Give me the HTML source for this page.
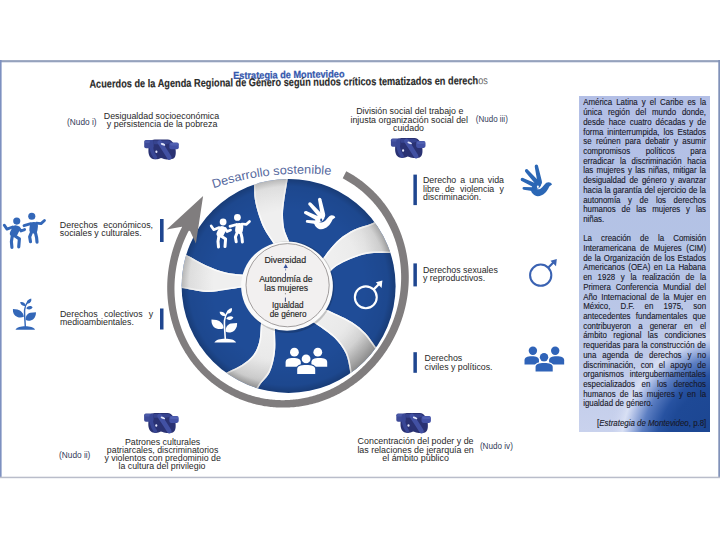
<!DOCTYPE html>
<html><head><meta charset="utf-8"><style>html,body{margin:0;padding:0;background:#fff;width:720px;height:540px;overflow:hidden}svg{display:block}</style></head>
<body><svg width="720" height="540" viewBox="0 0 720 540" font-family="&apos;Liberation Sans&apos;, sans-serif">
<defs>
<linearGradient id="boxg" x1="0" y1="0" x2="1" y2="1">
 <stop offset="0" stop-color="#b8c2e8"/>
 <stop offset="0.55" stop-color="#b3bde6"/>
 <stop offset="1" stop-color="#2a55a8"/>
</linearGradient>
<linearGradient id="boxv" x1="0" y1="0" x2="0" y2="1">
 <stop offset="0" stop-color="#b3bfe6"/>
 <stop offset="0.45" stop-color="#b4c3e5"/>
 <stop offset="0.8" stop-color="#bfcae9"/>
 <stop offset="1" stop-color="#c9d2ed"/>
</linearGradient>
<radialGradient id="boxr" gradientUnits="userSpaceOnUse" cx="727" cy="450" r="140" gradientTransform="translate(727 450) scale(1 1.08) translate(-727 -450)">
 <stop offset="0" stop-color="#1a4490"/>
 <stop offset="0.43" stop-color="#1e4996"/>
 <stop offset="0.507" stop-color="#2752a1"/>
 <stop offset="0.62" stop-color="#5c7ec2"/>
 <stop offset="0.714" stop-color="#b4c3e8" stop-opacity="0.9"/>
 <stop offset="0.757" stop-color="#dde4f6" stop-opacity="0.8"/>
 <stop offset="0.86" stop-color="#c8d0ee" stop-opacity="0"/>
</radialGradient>
<clipPath id="wheelclip"><circle cx="288.6" cy="285.9" r="107"/></clipPath>
<linearGradient id="bandg" x1="0" y1="0" x2="1" y2="0">
 <stop offset="0" stop-color="#f4f4f4"/>
 <stop offset="0.6" stop-color="#e4e4e4"/>
 <stop offset="1" stop-color="#c8c8c8"/>
</linearGradient>
<radialGradient id="bandrad" cx="272" cy="266" r="125" gradientUnits="userSpaceOnUse">
 <stop offset="0.5" stop-color="#efefef"/>
 <stop offset="0.76" stop-color="#e9e9e9"/>
 <stop offset="0.9" stop-color="#d8d8d8"/>
 <stop offset="1" stop-color="#b2b2b2"/>
</radialGradient>
<radialGradient id="rimshade" cx="288.6" cy="285.9" r="107" gradientUnits="userSpaceOnUse">
 <stop offset="0.7" stop-color="#000" stop-opacity="0"/>
 <stop offset="0.93" stop-color="#000" stop-opacity="0.06"/>
 <stop offset="1" stop-color="#000" stop-opacity="0.22"/>
</radialGradient>
</defs>
<rect width="720" height="540" fill="#ffffff"/>
<rect x="0" y="60.2" width="720" height="1.7" fill="#8a98b6"/>
<rect x="0" y="62" width="720" height="1" fill="#dfe3ee"/>
<rect x="0" y="60" width="1.6" height="418" fill="#7d90c0"/>
<rect x="718.3" y="60" width="1.7" height="418" fill="#8192b9"/>
<rect x="0" y="476.7" width="720" height="1.5" fill="#b9bdca"/>
<g transform="rotate(-0.9 289 76)">
<text x="233.20" y="78.20" font-size="10.2" fill="#3558ad" text-anchor="start" font-weight="bold" textLength="111.3" lengthAdjust="spacingAndGlyphs" stroke="#3558ad" stroke-width="0.25">Estrategia de Montevideo</text>
</g>
<g transform="rotate(-0.5 89.4 87.7)">
<text x="89.4" y="87.7" font-size="11.3" fill="#2a2a2a" stroke="#2a2a2a" stroke-width="0.15" font-weight="bold" textLength="398.6" lengthAdjust="spacingAndGlyphs">Acuerdos de la Agenda Regional de Género según nudos críticos tematizados en derech<tspan font-weight="normal" fill="#666" stroke="none">os</tspan></text>
</g>
<text x="67.10" y="125.30" font-size="8.2" fill="#323a58" text-anchor="start" font-weight="normal" textLength="29.5" lengthAdjust="spacingAndGlyphs">(Nudo i)</text>
<text x="161.50" y="119.40" font-size="8.9" fill="#282828" text-anchor="middle" font-weight="normal" >Desigualdad socioeconómica</text>
<text x="162.10" y="127.40" font-size="8.9" fill="#282828" text-anchor="middle" font-weight="normal" >y persistencia de la pobreza</text>
<text x="409.80" y="114.40" font-size="8.85" fill="#282828" text-anchor="middle" font-weight="normal" >División social del trabajo e</text>
<text x="409.20" y="122.60" font-size="8.85" fill="#282828" text-anchor="middle" font-weight="normal" >injusta organización social del</text>
<text x="408.50" y="130.90" font-size="8.85" fill="#282828" text-anchor="middle" font-weight="normal" >cuidado</text>
<text x="475.80" y="121.60" font-size="8.2" fill="#323a58" text-anchor="start" font-weight="normal" textLength="32" lengthAdjust="spacingAndGlyphs">(Nudo iii)</text>
<text x="162.60" y="444.60" font-size="8.8" fill="#282828" text-anchor="middle" font-weight="normal" >Patrones culturales</text>
<text x="162.60" y="452.80" font-size="8.8" fill="#282828" text-anchor="middle" font-weight="normal" >patriarcales, discriminatorios</text>
<text x="162.60" y="461.10" font-size="8.8" fill="#282828" text-anchor="middle" font-weight="normal" >y violentos con predominio de</text>
<text x="162.00" y="469.40" font-size="8.8" fill="#282828" text-anchor="middle" font-weight="normal" >la cultura del privilegio</text>
<text x="59.00" y="458.00" font-size="8.2" fill="#323a58" text-anchor="start" font-weight="normal" textLength="31.4" lengthAdjust="spacingAndGlyphs">(Nudo ii)</text>
<text x="415.60" y="444.30" font-size="8.9" fill="#282828" text-anchor="middle" font-weight="normal" >Concentración del poder y de</text>
<text x="415.60" y="452.50" font-size="8.9" fill="#282828" text-anchor="middle" font-weight="normal" >las relaciones de jerarquía en</text>
<text x="415.60" y="460.70" font-size="8.9" fill="#282828" text-anchor="middle" font-weight="normal" >el ámbito público</text>
<text x="479.90" y="449.00" font-size="8.2" fill="#323a58" text-anchor="start" font-weight="normal" textLength="33" lengthAdjust="spacingAndGlyphs">(Nudo iv)</text>
<text x="59.80" y="227.90" font-size="8.9" fill="#282828" word-spacing="2.972">Derechos económicos,</text>
<text x="59.80" y="236.10" font-size="8.9" fill="#282828" text-anchor="start" font-weight="normal" >sociales y culturales.</text>
<rect x="160" y="219" width="3.6" height="23" fill="#1f4690"/>
<text x="60.00" y="316.70" font-size="8.8" fill="#282828" word-spacing="3.854">Derechos colectivos y</text>
<text x="60.00" y="325.00" font-size="8.8" fill="#282828" text-anchor="start" font-weight="normal" >medioambientales.</text>
<rect x="160" y="308.5" width="3.5" height="21" fill="#1f4690"/>
<rect x="413.4" y="174.6" width="3.5" height="30.5" fill="#1f4690"/>
<text x="423.00" y="183.40" font-size="8.8" fill="#282828" word-spacing="1.560">Derecho a una vida</text>
<text x="423.00" y="191.60" font-size="8.8" fill="#282828" word-spacing="2.868">libre de violencia y</text>
<text x="423.00" y="199.80" font-size="8.8" fill="#282828" text-anchor="start" font-weight="normal" >discriminación.</text>
<rect x="413.4" y="263.4" width="3.5" height="23" fill="#1f4690"/>
<text x="423.00" y="272.60" font-size="8.8" fill="#282828" text-anchor="start" font-weight="normal" >Derechos sexuales</text>
<text x="423.00" y="280.90" font-size="8.8" fill="#282828" text-anchor="start" font-weight="normal" >y reproductivos.</text>
<rect x="413.4" y="352.2" width="3.5" height="20.6" fill="#1f4690"/>
<text x="424.60" y="361.40" font-size="8.8" fill="#282828" text-anchor="start" font-weight="normal" >Derechos</text>
<text x="424.60" y="369.70" font-size="8.8" fill="#282828" text-anchor="start" font-weight="normal" >civiles y políticos.</text>
<rect x="579" y="96" width="131" height="336" fill="url(#boxv)"/>
<rect x="579" y="96" width="131" height="336" fill="url(#boxr)"/>
<text transform="translate(583.20 105.40) scale(0.93 1)" x="0" y="0" font-size="8.5" fill="#181828" stroke="#181828" stroke-width="0.12" text-anchor="start" word-spacing="2.060">América Latina y el Caribe es la</text>
<text transform="translate(583.20 115.11) scale(0.93 1)" x="0" y="0" font-size="8.5" fill="#181828" stroke="#181828" stroke-width="0.12" text-anchor="start" word-spacing="3.909">única región del mundo donde,</text>
<text transform="translate(583.20 124.82) scale(0.93 1)" x="0" y="0" font-size="8.5" fill="#181828" stroke="#181828" stroke-width="0.12" text-anchor="start" word-spacing="1.900">desde hace cuatro décadas y de</text>
<text transform="translate(583.20 134.53) scale(0.93 1)" x="0" y="0" font-size="8.5" fill="#181828" stroke="#181828" stroke-width="0.12" text-anchor="start" word-spacing="1.917">forma ininterrumpida, los Estados</text>
<text transform="translate(583.20 144.24) scale(0.93 1)" x="0" y="0" font-size="8.5" fill="#181828" stroke="#181828" stroke-width="0.12" text-anchor="start" word-spacing="2.471">se reúnen para debatir y asumir</text>
<text transform="translate(583.20 153.95) scale(0.93 1)" x="0" y="0" font-size="8.5" fill="#181828" stroke="#181828" stroke-width="0.12" text-anchor="start" word-spacing="14.453">compromisos políticos para</text>
<text transform="translate(583.20 163.66) scale(0.93 1)" x="0" y="0" font-size="8.5" fill="#181828" stroke="#181828" stroke-width="0.12" text-anchor="start" word-spacing="3.650">erradicar la discriminación hacia</text>
<text transform="translate(583.20 173.37) scale(0.93 1)" x="0" y="0" font-size="8.5" fill="#181828" stroke="#181828" stroke-width="0.12" text-anchor="start" word-spacing="1.196">las mujeres y las niñas, mitigar la</text>
<text transform="translate(583.20 183.08) scale(0.93 1)" x="0" y="0" font-size="8.5" fill="#181828" stroke="#181828" stroke-width="0.12" text-anchor="start" word-spacing="1.665">desigualdad de género y avanzar</text>
<text transform="translate(583.20 192.79) scale(0.93 1)" x="0" y="0" font-size="8.5" fill="#181828" stroke="#181828" stroke-width="0.12" text-anchor="start" word-spacing="0.246">hacia la garantía del ejercicio de la</text>
<text transform="translate(583.20 202.50) scale(0.93 1)" x="0" y="0" font-size="8.5" fill="#181828" stroke="#181828" stroke-width="0.12" text-anchor="start" word-spacing="5.803">autonomía y de los derechos</text>
<text transform="translate(583.20 212.21) scale(0.93 1)" x="0" y="0" font-size="8.5" fill="#181828" stroke="#181828" stroke-width="0.12" text-anchor="start" word-spacing="3.984">humanos de las mujeres y las</text>
<text transform="translate(583.20 221.92) scale(0.93 1)" x="0" y="0" font-size="8.5" fill="#181828" stroke="#181828" stroke-width="0.12" text-anchor="start" word-spacing="0.000">niñas.</text>
<text transform="translate(583.20 241.34) scale(0.93 1)" x="0" y="0" font-size="8.5" fill="#181828" stroke="#181828" stroke-width="0.12" text-anchor="start" word-spacing="7.459">La creación de la Comisión</text>
<text transform="translate(583.20 251.05) scale(0.93 1)" x="0" y="0" font-size="8.5" fill="#181828" stroke="#181828" stroke-width="0.12" text-anchor="start" word-spacing="2.552">Interamericana de Mujeres (CIM)</text>
<text transform="translate(583.20 260.76) scale(0.93 1)" x="0" y="0" font-size="8.5" fill="#181828" stroke="#181828" stroke-width="0.12" text-anchor="start" word-spacing="0.674">de la Organización de los Estados</text>
<text transform="translate(583.20 270.47) scale(0.93 1)" x="0" y="0" font-size="8.5" fill="#181828" stroke="#181828" stroke-width="0.12" text-anchor="start" word-spacing="1.435">Americanos (OEA) en La Habana</text>
<text transform="translate(583.20 280.18) scale(0.93 1)" x="0" y="0" font-size="8.5" fill="#181828" stroke="#181828" stroke-width="0.12" text-anchor="start" word-spacing="3.710">en 1928 y la realización de la</text>
<text transform="translate(583.20 289.89) scale(0.93 1)" x="0" y="0" font-size="8.5" fill="#181828" stroke="#181828" stroke-width="0.12" text-anchor="start" word-spacing="2.860">Primera Conferencia Mundial del</text>
<text transform="translate(583.20 299.60) scale(0.93 1)" x="0" y="0" font-size="8.5" fill="#181828" stroke="#181828" stroke-width="0.12" text-anchor="start" word-spacing="1.996">Año Internacional de la Mujer en</text>
<text transform="translate(583.20 309.31) scale(0.93 1)" x="0" y="0" font-size="8.5" fill="#181828" stroke="#181828" stroke-width="0.12" text-anchor="start" word-spacing="8.523">México, D.F. en 1975, son</text>
<text transform="translate(583.20 319.02) scale(0.93 1)" x="0" y="0" font-size="8.5" fill="#181828" stroke="#181828" stroke-width="0.12" text-anchor="start" word-spacing="3.328">antecedentes fundamentales que</text>
<text transform="translate(583.20 328.73) scale(0.93 1)" x="0" y="0" font-size="8.5" fill="#181828" stroke="#181828" stroke-width="0.12" text-anchor="start" word-spacing="5.330">contribuyeron a generar en el</text>
<text transform="translate(583.20 338.44) scale(0.93 1)" x="0" y="0" font-size="8.5" fill="#181828" stroke="#181828" stroke-width="0.12" text-anchor="start" word-spacing="4.588">ámbito regional las condiciones</text>
<text transform="translate(583.20 348.15) scale(0.93 1)" x="0" y="0" font-size="8.5" fill="#181828" stroke="#181828" stroke-width="0.12" text-anchor="start" word-spacing="0.488">requeridas para la construcción de</text>
<text transform="translate(583.20 357.86) scale(0.93 1)" x="0" y="0" font-size="8.5" fill="#181828" stroke="#181828" stroke-width="0.12" text-anchor="start" word-spacing="3.977">una agenda de derechos y no</text>
<text transform="translate(583.20 367.57) scale(0.93 1)" x="0" y="0" font-size="8.5" fill="#181828" stroke="#181828" stroke-width="0.12" text-anchor="start" word-spacing="3.442">discriminación, con el apoyo de</text>
<text transform="translate(583.20 377.28) scale(0.93 1)" x="0" y="0" font-size="8.5" fill="#181828" stroke="#181828" stroke-width="0.12" text-anchor="start" word-spacing="3.844">organismos intergubernamentales</text>
<text transform="translate(583.20 386.99) scale(0.93 1)" x="0" y="0" font-size="8.5" fill="#181828" stroke="#181828" stroke-width="0.12" text-anchor="start" word-spacing="4.745">especializados en los derechos</text>
<text transform="translate(583.20 396.70) scale(0.93 1)" x="0" y="0" font-size="8.5" fill="#181828" stroke="#181828" stroke-width="0.12" text-anchor="start" word-spacing="2.059">humanos de las mujeres y en la</text>
<text transform="translate(583.20 406.41) scale(0.93 1)" x="0" y="0" font-size="8.5" fill="#181828" stroke="#181828" stroke-width="0.12" text-anchor="start" word-spacing="0.000">igualdad de género.</text>
<text transform="translate(706.30 425.83) scale(0.93 1)" x="0" y="0" font-size="8.5" fill="#181828" stroke="#181828" stroke-width="0.12" text-anchor="end" word-spacing="0.000">[<tspan font-style="italic">Estrategia de Montevideo</tspan>, p.8]</text>
<path d="M346.26 171.26 L347.61 171.98 L348.96 172.72 L350.29 173.49 L351.61 174.26 L352.92 175.06 L354.22 175.87 L355.51 176.70 L356.79 177.55 L358.05 178.41 L359.31 179.29 L360.55 180.19 L361.78 181.10 L362.99 182.03 L364.19 182.98 L365.38 183.94 L366.56 184.91 L367.72 185.90 L368.87 186.91 L370.01 187.93 L371.13 188.96 L372.24 190.01 L373.33 191.07 L374.41 192.15 L375.47 193.23 L376.52 194.34 L377.55 195.45 L378.57 196.58 L379.57 197.72 L380.56 198.87 L381.53 200.04 L382.48 201.22 L383.42 202.40 L384.35 203.60 L385.25 204.81 L386.14 206.04 L387.02 207.27 L387.88 208.51 L388.72 209.76 L389.54 211.02 L390.35 212.30 L391.14 213.58 L391.91 214.87 L392.67 216.16 L393.41 217.47 L394.13 218.79 L394.84 220.11 L395.53 221.44 L396.20 222.78 L396.85 224.12 L397.49 225.48 L398.11 226.84 L398.71 228.20 L399.29 229.57 L399.86 230.95 L400.40 232.33 L400.94 233.72 L401.45 235.12 L401.94 236.51 L402.42 237.92 L402.88 239.33 L403.33 240.74 L403.75 242.15 L404.16 243.57 L404.55 245.00 L404.92 246.43 L405.28 247.85 L405.62 249.29 L405.94 250.72 L406.24 252.16 L406.53 253.60 L406.80 255.04 L407.05 256.49 L407.28 257.93 L407.50 259.38 L407.70 260.82 L407.88 262.27 L408.05 263.72 L408.19 265.17 L408.33 266.62 L408.44 268.07 L408.54 269.52 L408.62 270.97 L408.69 272.42 L408.73 273.86 L408.77 275.31 L408.78 276.76 L408.78 278.20 L408.76 279.65 L408.73 281.09 L408.68 282.53 L408.61 283.97 L408.53 285.40 L408.43 286.84 L408.32 288.27 L408.19 289.70 L408.05 291.12 L407.89 292.55 L407.71 293.97 L407.52 295.39 L407.31 296.80 L407.09 298.21 L406.85 299.62 L406.60 301.02 L406.33 302.42 L406.05 303.82 L405.75 305.21 L405.44 306.60 L405.11 307.98 L404.77 309.36 L404.42 310.73 L404.05 312.10 L403.66 313.46 L403.26 314.82 L402.85 316.18 L402.42 317.53 L401.98 318.87 L401.53 320.21 L401.06 321.54 L400.58 322.87 L400.08 324.19 L399.57 325.50 L399.04 326.81 L398.51 328.12 L397.96 329.41 L397.39 330.70 L396.81 331.99 L396.22 333.26 L395.62 334.53 L395.00 335.80 L394.37 337.06 L393.73 338.31 L393.07 339.55 L392.40 340.78 L391.72 342.01 L391.03 343.23 L390.32 344.45 L389.60 345.65 L388.87 346.85 L388.13 348.04 L387.37 349.22 L386.60 350.40 L385.82 351.56 L385.03 352.72 L384.22 353.87 L383.40 355.01 L382.57 356.14 L381.73 357.27 L380.88 358.38 L380.01 359.49 L379.14 360.58 L378.25 361.67 L377.35 362.75 L376.43 363.82 L375.51 364.88 L374.58 365.93 L373.63 366.97 L372.67 368.00 L371.71 369.01 L370.73 370.02 L369.74 371.02 L368.73 372.01 L367.72 372.99 L366.70 373.96 L365.66 374.91 L364.62 375.86 L363.56 376.80 L362.50 377.72 L361.42 378.63 L360.33 379.53 L359.24 380.42 L358.13 381.30 L357.01 382.17 L355.89 383.02 L354.75 383.86 L353.60 384.69 L352.44 385.51 L351.28 386.31 L350.10 387.10 L348.92 387.88 L347.72 388.65 L346.52 389.40 L345.31 390.14 L344.08 390.87 L342.85 391.58 L341.61 392.28 L340.37 392.97 L339.11 393.64 L337.85 394.30 L336.57 394.94 L335.29 395.57 L334.00 396.18 L332.71 396.78 L331.40 397.37 L330.09 397.94 L328.77 398.49 L327.44 399.03 L326.11 399.56 L324.77 400.07 L323.42 400.56 L322.07 401.04 L320.71 401.50 L319.34 401.95 L317.97 402.38 L316.59 402.80 L315.21 403.19 L313.82 403.58 L312.42 403.94 L311.02 404.29 L309.62 404.62 L308.21 404.94 L306.79 405.23 L305.37 405.52 L303.95 405.78 L302.52 406.03 L301.09 406.26 L299.66 406.47 L298.22 406.66 L296.78 406.84 L295.34 407.00 L293.89 407.14 L292.44 407.26 L290.99 407.37 L289.54 407.45 L288.08 407.52 L286.63 407.57 L285.17 407.61 L283.71 407.62 L282.25 407.62 L280.79 407.59 L279.33 407.55 L277.87 407.50 L276.41 407.42 L274.95 407.32 L273.49 407.21 L272.04 407.07 L270.58 406.92 L269.12 406.75 L267.67 406.56 L266.22 406.36 L264.77 406.13 L263.32 405.88 L261.88 405.62 L260.44 405.34 L259.00 405.04 L257.56 404.72 L256.13 404.38 L254.71 404.03 L253.28 403.65 L251.87 403.26 L250.45 402.85 L249.04 402.42 L247.64 401.97 L246.24 401.50 L244.85 401.02 L243.47 400.52 L242.09 400.00 L240.71 399.46 L239.35 398.90 L237.99 398.33 L236.64 397.74 L235.29 397.13 L233.96 396.50 L232.63 395.86 L231.31 395.20 L230.00 394.52 L228.69 393.82 L227.40 393.11 L226.12 392.38 L224.84 391.64 L223.58 390.88 L222.32 390.10 L221.07 389.30 L219.84 388.49 L218.61 387.67 L217.40 386.82 L216.20 385.97 L215.00 385.09 L213.82 384.20 L212.66 383.30 L211.50 382.38 L210.35 381.45 L209.22 380.50 L208.10 379.54 L206.99 378.56 L205.89 377.57 L204.81 376.57 L203.74 375.55 L202.69 374.52 L201.64 373.47 L200.61 372.41 L199.60 371.34 L198.59 370.26 L197.61 369.16 L196.63 368.05 L195.67 366.93 L194.73 365.80 L193.80 364.66 L192.88 363.50 L191.98 362.33 L191.09 361.16 L190.22 359.97 L189.36 358.77 L188.52 357.56 L187.70 356.34 L186.89 355.11 L186.09 353.87 L185.31 352.63 L184.55 351.37 L183.80 350.10 L183.07 348.83 L182.35 347.54 L181.65 346.25 L180.97 344.95 L180.30 343.64 L179.65 342.32 L179.01 341.00 L178.40 339.67 L177.79 338.33 L177.21 336.99 L176.64 335.64 L176.08 334.28 L175.55 332.91 L175.03 331.54 L174.53 330.17 L174.04 328.79 L173.57 327.40 L173.12 326.01 L172.68 324.61 L172.26 323.21 L171.86 321.81 L171.47 320.40 L171.10 318.99 L170.75 317.57 L170.41 316.15 L170.09 314.72 L169.79 313.29 L169.51 311.86 L169.24 310.43 L168.98 308.99 L168.75 307.56 L168.53 306.12 L168.33 304.67 L168.14 303.23 L167.97 301.78 L167.82 300.33 L167.69 298.89 L167.57 297.43 L167.47 295.98 L167.38 294.53 L167.31 293.08 L167.26 291.63 L167.22 290.17 L167.20 288.72 L167.20 287.27 L167.21 285.82 L167.24 284.36 L167.28 282.91 L167.35 281.46 L167.42 280.01 L167.52 278.56 L167.63 277.12 L167.75 275.67 L167.90 274.23 L168.05 272.79 L168.23 271.35 L168.42 269.91 L168.62 268.47 L168.85 267.04 L169.08 265.61 L169.34 264.18 L169.61 262.75 L169.89 261.33 L170.19 259.91 L170.51 258.50 L170.84 257.09 L171.18 255.68 L171.55 254.27 L171.92 252.87 L172.32 251.48 L172.72 250.08 L173.15 248.69 L173.58 247.31 L174.04 245.93 L174.51 244.56 L174.99 243.19 L175.49 241.83 L176.00 240.47 L176.53 239.11 L177.08 237.77 L177.63 236.42 L178.21 235.09 L178.79 233.76 L179.40 232.43 L180.01 231.11 L180.65 229.80 L181.29 228.50 L181.95 227.20 L182.63 225.91 L183.32 224.62 L189.99 228.51 L189.34 229.71 L188.70 230.91 L188.07 232.12 L187.46 233.34 L186.86 234.57 L186.28 235.80 L185.70 237.04 L185.15 238.28 L184.60 239.53 L184.07 240.78 L183.55 242.04 L183.05 243.31 L182.56 244.58 L182.09 245.86 L181.62 247.14 L181.18 248.42 L180.74 249.71 L180.32 251.01 L179.92 252.31 L179.53 253.61 L179.15 254.92 L178.79 256.23 L178.44 257.54 L178.10 258.86 L177.78 260.19 L177.48 261.51 L177.19 262.84 L176.91 264.18 L176.65 265.51 L176.40 266.85 L176.17 268.19 L175.95 269.54 L175.75 270.88 L175.56 272.23 L175.39 273.58 L175.23 274.94 L175.09 276.29 L174.96 277.65 L174.84 279.01 L174.75 280.37 L174.66 281.73 L174.60 283.09 L174.55 284.46 L174.51 285.82 L174.49 287.19 L174.48 288.55 L174.49 289.92 L174.52 291.28 L174.56 292.65 L174.61 294.02 L174.68 295.38 L174.77 296.75 L174.88 298.11 L174.99 299.48 L175.13 300.84 L175.28 302.20 L175.45 303.56 L175.63 304.92 L175.83 306.28 L176.04 307.63 L176.27 308.99 L176.51 310.34 L176.78 311.68 L177.05 313.03 L177.35 314.37 L177.66 315.71 L177.98 317.05 L178.32 318.38 L178.68 319.71 L179.05 321.03 L179.44 322.36 L179.85 323.67 L180.27 324.98 L180.71 326.29 L181.16 327.59 L181.63 328.89 L182.11 330.18 L182.61 331.47 L183.13 332.75 L183.66 334.03 L184.21 335.30 L184.77 336.56 L185.35 337.81 L185.95 339.06 L186.56 340.30 L187.18 341.54 L187.83 342.77 L188.48 343.98 L189.15 345.20 L189.84 346.40 L190.55 347.59 L191.26 348.78 L192.00 349.96 L192.74 351.13 L193.51 352.29 L194.28 353.44 L195.08 354.58 L195.88 355.71 L196.70 356.83 L197.54 357.94 L198.39 359.04 L199.25 360.12 L200.13 361.20 L201.02 362.27 L201.93 363.32 L202.84 364.37 L203.78 365.40 L204.72 366.42 L205.68 367.43 L206.65 368.42 L207.64 369.41 L208.63 370.38 L209.64 371.34 L210.67 372.28 L211.70 373.21 L212.75 374.13 L213.81 375.03 L214.88 375.92 L215.96 376.80 L217.05 377.66 L218.15 378.51 L219.27 379.34 L220.39 380.16 L221.53 380.97 L222.68 381.76 L223.83 382.53 L225.00 383.29 L226.18 384.03 L227.36 384.76 L228.56 385.47 L229.76 386.17 L230.98 386.85 L232.20 387.52 L233.43 388.16 L234.66 388.80 L235.91 389.41 L237.16 390.01 L238.43 390.59 L239.69 391.16 L240.97 391.71 L242.25 392.24 L243.54 392.76 L244.84 393.26 L246.14 393.74 L247.44 394.20 L248.76 394.65 L250.07 395.08 L251.40 395.49 L252.72 395.89 L254.05 396.27 L255.39 396.63 L256.73 396.97 L258.08 397.30 L259.42 397.60 L260.77 397.89 L262.13 398.17 L263.49 398.42 L264.84 398.66 L266.21 398.88 L267.57 399.08 L268.94 399.27 L270.30 399.43 L271.67 399.58 L273.04 399.71 L274.41 399.83 L275.78 399.93 L277.16 400.01 L278.53 400.07 L279.90 400.11 L281.27 400.14 L282.64 400.15 L284.01 400.14 L285.38 400.12 L286.75 400.08 L288.11 400.02 L289.48 399.94 L290.84 399.85 L292.20 399.74 L293.56 399.61 L294.92 399.47 L296.27 399.31 L297.62 399.13 L298.97 398.94 L300.31 398.73 L301.65 398.50 L302.99 398.26 L304.32 398.00 L305.65 397.73 L306.97 397.44 L308.29 397.14 L309.60 396.81 L310.91 396.48 L312.22 396.13 L313.52 395.76 L314.81 395.38 L316.10 394.98 L317.38 394.56 L318.66 394.14 L319.93 393.69 L321.20 393.24 L322.46 392.77 L323.71 392.28 L324.95 391.78 L326.19 391.27 L327.42 390.74 L328.65 390.20 L329.86 389.64 L331.07 389.07 L332.28 388.49 L333.47 387.89 L334.66 387.28 L335.84 386.66 L337.01 386.02 L338.17 385.38 L339.33 384.72 L340.48 384.04 L341.62 383.36 L342.75 382.66 L343.87 381.95 L344.98 381.23 L346.09 380.49 L347.18 379.75 L348.27 378.99 L349.35 378.22 L350.42 377.44 L351.47 376.65 L352.52 375.85 L353.57 375.04 L354.60 374.21 L355.62 373.38 L356.63 372.53 L357.64 371.68 L358.63 370.81 L359.61 369.94 L360.59 369.05 L361.55 368.15 L362.50 367.25 L363.45 366.33 L364.38 365.41 L365.30 364.47 L366.22 363.53 L367.12 362.57 L368.01 361.61 L368.89 360.64 L369.77 359.66 L370.63 358.67 L371.48 357.67 L372.32 356.66 L373.15 355.64 L373.97 354.62 L374.77 353.59 L375.57 352.55 L376.36 351.50 L377.13 350.44 L377.90 349.38 L378.65 348.30 L379.39 347.22 L380.12 346.13 L380.84 345.04 L381.55 343.94 L382.25 342.83 L382.93 341.71 L383.61 340.58 L384.27 339.45 L384.92 338.31 L385.56 337.16 L386.19 336.01 L386.80 334.85 L387.41 333.69 L388.00 332.51 L388.58 331.33 L389.15 330.15 L389.70 328.96 L390.24 327.76 L390.78 326.56 L391.29 325.35 L391.80 324.13 L392.30 322.91 L392.78 321.68 L393.25 320.45 L393.70 319.21 L394.15 317.97 L394.58 316.72 L394.99 315.46 L395.40 314.20 L395.79 312.94 L396.17 311.67 L396.53 310.40 L396.89 309.12 L397.23 307.83 L397.55 306.55 L397.86 305.25 L398.16 303.96 L398.45 302.66 L398.72 301.35 L398.97 300.04 L399.22 298.73 L399.44 297.42 L399.66 296.10 L399.86 294.78 L400.05 293.45 L400.22 292.12 L400.37 290.79 L400.52 289.45 L400.65 288.12 L400.76 286.78 L400.86 285.43 L400.94 284.09 L401.01 282.74 L401.06 281.40 L401.10 280.04 L401.13 278.69 L401.13 277.34 L401.13 275.98 L401.10 274.63 L401.07 273.27 L401.01 271.91 L400.94 270.56 L400.86 269.20 L400.76 267.84 L400.64 266.48 L400.51 265.12 L400.36 263.76 L400.20 262.40 L400.01 261.05 L399.82 259.69 L399.61 258.33 L399.38 256.98 L399.13 255.63 L398.87 254.27 L398.59 252.93 L398.30 251.58 L397.98 250.23 L397.66 248.89 L397.31 247.55 L396.95 246.21 L396.57 244.88 L396.18 243.55 L395.77 242.23 L395.34 240.90 L394.90 239.58 L394.44 238.27 L393.96 236.96 L393.47 235.66 L392.96 234.36 L392.43 233.06 L391.89 231.77 L391.33 230.49 L390.75 229.21 L390.16 227.94 L389.55 226.68 L388.92 225.42 L388.28 224.17 L387.62 222.93 L386.95 221.69 L386.25 220.46 L385.55 219.24 L384.82 218.03 L384.08 216.83 L383.33 215.64 L382.55 214.45 L381.77 213.27 L380.96 212.11 L380.14 210.95 L379.31 209.80 L378.46 208.66 L377.59 207.54 L376.71 206.42 L375.82 205.32 L374.91 204.22 L373.98 203.14 L373.04 202.07 L372.09 201.01 L371.12 199.96 L370.13 198.93 L369.13 197.91 L368.12 196.90 L367.10 195.90 L366.06 194.92 L365.00 193.95 L363.94 192.99 L362.86 192.05 L361.77 191.12 L360.66 190.21 L359.54 189.31 L358.42 188.42 L357.27 187.55 L356.12 186.70 L354.95 185.86 L353.78 185.03 L352.59 184.23 L351.39 183.43 L350.18 182.66 L348.96 181.90 L347.72 181.15 L346.48 180.42 L345.23 179.71 L343.97 179.02 L342.70 178.34 Z" fill="#807d7e"/>
<circle cx="288.6" cy="285.9" r="108.6" fill="#ffffff"/>
<circle cx="288.6" cy="285.9" r="107.0" fill="#1f4c97"/>
<g clip-path="url(#wheelclip)">
<clipPath id="bc0"><path d="M253.2 168 C253.33 171.05 253.73 181.03 254.00 186.30 C254.27 191.57 254.05 194.92 254.80 199.60 C255.55 204.28 256.90 209.45 258.50 214.40 C260.10 219.35 262.17 224.85 264.40 229.30 C266.63 233.75 269.80 237.82 271.90 241.10 C274.00 244.38 276.15 247.68 277.00 249.00 L291 249 C290.65 247.68 290.00 244.38 288.90 241.10 C287.80 237.82 285.38 233.75 284.40 229.30 C283.42 224.85 283.00 219.35 283.00 214.40 C283.00 209.45 283.67 205.15 284.40 199.60 C285.13 194.05 286.63 186.37 287.40 181.10 C288.17 175.83 288.73 170.18 289.00 168.00 Z"/></clipPath>
<path d="M253.2 168 C253.33 171.05 253.73 181.03 254.00 186.30 C254.27 191.57 254.05 194.92 254.80 199.60 C255.55 204.28 256.90 209.45 258.50 214.40 C260.10 219.35 262.17 224.85 264.40 229.30 C266.63 233.75 269.80 237.82 271.90 241.10 C274.00 244.38 276.15 247.68 277.00 249.00 L291 249 C290.65 247.68 290.00 244.38 288.90 241.10 C287.80 237.82 285.38 233.75 284.40 229.30 C283.42 224.85 283.00 219.35 283.00 214.40 C283.00 209.45 283.67 205.15 284.40 199.60 C285.13 194.05 286.63 186.37 287.40 181.10 C288.17 175.83 288.73 170.18 289.00 168.00 Z" fill="url(#bandrad)"/>
<path d="M253.2 168 C253.33 171.05 253.73 181.03 254.00 186.30 C254.27 191.57 254.05 194.92 254.80 199.60 C255.55 204.28 256.90 209.45 258.50 214.40 C260.10 219.35 262.17 224.85 264.40 229.30 C266.63 233.75 269.80 237.82 271.90 241.10 C274.00 244.38 276.15 247.68 277.00 249.00 L291 249 C290.65 247.68 290.00 244.38 288.90 241.10 C287.80 237.82 285.38 233.75 284.40 229.30 C283.42 224.85 283.00 219.35 283.00 214.40 C283.00 209.45 283.67 205.15 284.40 199.60 C285.13 194.05 286.63 186.37 287.40 181.10 C288.17 175.83 288.73 170.18 289.00 168.00 Z" fill="none" stroke="#fafafa" stroke-width="3.2" clip-path="url(#bc0)"/>
<clipPath id="bc1"><path d="M388 215 C385.37 216.38 377.80 220.87 372.20 223.30 C366.60 225.73 359.83 226.98 354.40 229.60 C348.97 232.22 343.78 235.60 339.60 239.00 C335.42 242.40 331.77 247.17 329.30 250.00 C326.83 252.83 326.52 253.67 324.80 256.00 C323.08 258.33 319.97 262.67 319.00 264.00 L325 277 C326.20 275.75 329.77 271.62 332.20 269.50 C334.63 267.38 335.90 266.28 339.60 264.30 C343.30 262.32 349.45 259.42 354.40 257.60 C359.35 255.78 363.37 254.17 369.30 253.40 C375.23 252.63 383.22 253.07 390.00 253.00 C396.78 252.93 406.67 253.00 410.00 253.00 Z"/></clipPath>
<path d="M388 215 C385.37 216.38 377.80 220.87 372.20 223.30 C366.60 225.73 359.83 226.98 354.40 229.60 C348.97 232.22 343.78 235.60 339.60 239.00 C335.42 242.40 331.77 247.17 329.30 250.00 C326.83 252.83 326.52 253.67 324.80 256.00 C323.08 258.33 319.97 262.67 319.00 264.00 L325 277 C326.20 275.75 329.77 271.62 332.20 269.50 C334.63 267.38 335.90 266.28 339.60 264.30 C343.30 262.32 349.45 259.42 354.40 257.60 C359.35 255.78 363.37 254.17 369.30 253.40 C375.23 252.63 383.22 253.07 390.00 253.00 C396.78 252.93 406.67 253.00 410.00 253.00 Z" fill="url(#bandrad)"/>
<path d="M388 215 C385.37 216.38 377.80 220.87 372.20 223.30 C366.60 225.73 359.83 226.98 354.40 229.60 C348.97 232.22 343.78 235.60 339.60 239.00 C335.42 242.40 331.77 247.17 329.30 250.00 C326.83 252.83 326.52 253.67 324.80 256.00 C323.08 258.33 319.97 262.67 319.00 264.00 L325 277 C326.20 275.75 329.77 271.62 332.20 269.50 C334.63 267.38 335.90 266.28 339.60 264.30 C343.30 262.32 349.45 259.42 354.40 257.60 C359.35 255.78 363.37 254.17 369.30 253.40 C375.23 252.63 383.22 253.07 390.00 253.00 C396.78 252.93 406.67 253.00 410.00 253.00 Z" fill="none" stroke="#fafafa" stroke-width="3.2" clip-path="url(#bc1)"/>
<clipPath id="bc2"><path d="M385 359 C383.43 356.95 378.83 350.98 375.60 346.70 C372.37 342.42 369.50 337.38 365.60 333.30 C361.70 329.22 357.77 325.72 352.20 322.20 C346.63 318.68 336.90 314.40 332.20 312.20 C327.50 310.00 325.37 309.53 324.00 309.00 L310 321 C311.12 321.57 312.63 321.60 316.70 324.40 C320.77 327.20 329.58 332.98 334.40 337.80 C339.22 342.62 343.00 347.75 345.60 353.30 C348.20 358.85 348.93 365.32 350.00 371.10 C351.07 376.88 351.67 385.18 352.00 388.00 Z"/></clipPath>
<path d="M385 359 C383.43 356.95 378.83 350.98 375.60 346.70 C372.37 342.42 369.50 337.38 365.60 333.30 C361.70 329.22 357.77 325.72 352.20 322.20 C346.63 318.68 336.90 314.40 332.20 312.20 C327.50 310.00 325.37 309.53 324.00 309.00 L310 321 C311.12 321.57 312.63 321.60 316.70 324.40 C320.77 327.20 329.58 332.98 334.40 337.80 C339.22 342.62 343.00 347.75 345.60 353.30 C348.20 358.85 348.93 365.32 350.00 371.10 C351.07 376.88 351.67 385.18 352.00 388.00 Z" fill="url(#bandrad)"/>
<path d="M385 359 C383.43 356.95 378.83 350.98 375.60 346.70 C372.37 342.42 369.50 337.38 365.60 333.30 C361.70 329.22 357.77 325.72 352.20 322.20 C346.63 318.68 336.90 314.40 332.20 312.20 C327.50 310.00 325.37 309.53 324.00 309.00 L310 321 C311.12 321.57 312.63 321.60 316.70 324.40 C320.77 327.20 329.58 332.98 334.40 337.80 C339.22 342.62 343.00 347.75 345.60 353.30 C348.20 358.85 348.93 365.32 350.00 371.10 C351.07 376.88 351.67 385.18 352.00 388.00 Z" fill="none" stroke="#fafafa" stroke-width="3.2" clip-path="url(#bc2)"/>
<clipPath id="bc3"><path d="M213 380 C215.55 378.62 223.52 374.20 228.30 371.70 C233.08 369.20 237.53 367.78 241.70 365.00 C245.87 362.22 250.38 358.88 253.30 355.00 C256.22 351.12 257.95 346.57 259.20 341.70 C260.45 336.83 260.42 329.75 260.80 325.80 C261.18 321.85 261.38 319.30 261.50 318.00 L275.5 320 C275.42 321.53 275.08 323.92 275.00 329.20 C274.92 334.48 275.83 344.62 275.00 351.70 C274.17 358.78 272.50 366.15 270.00 371.70 C267.50 377.25 263.00 380.28 260.00 385.00 C257.00 389.72 253.33 397.50 252.00 400.00 Z"/></clipPath>
<path d="M213 380 C215.55 378.62 223.52 374.20 228.30 371.70 C233.08 369.20 237.53 367.78 241.70 365.00 C245.87 362.22 250.38 358.88 253.30 355.00 C256.22 351.12 257.95 346.57 259.20 341.70 C260.45 336.83 260.42 329.75 260.80 325.80 C261.18 321.85 261.38 319.30 261.50 318.00 L275.5 320 C275.42 321.53 275.08 323.92 275.00 329.20 C274.92 334.48 275.83 344.62 275.00 351.70 C274.17 358.78 272.50 366.15 270.00 371.70 C267.50 377.25 263.00 380.28 260.00 385.00 C257.00 389.72 253.33 397.50 252.00 400.00 Z" fill="url(#bandrad)"/>
<path d="M213 380 C215.55 378.62 223.52 374.20 228.30 371.70 C233.08 369.20 237.53 367.78 241.70 365.00 C245.87 362.22 250.38 358.88 253.30 355.00 C256.22 351.12 257.95 346.57 259.20 341.70 C260.45 336.83 260.42 329.75 260.80 325.80 C261.18 321.85 261.38 319.30 261.50 318.00 L275.5 320 C275.42 321.53 275.08 323.92 275.00 329.20 C274.92 334.48 275.83 344.62 275.00 351.70 C274.17 358.78 272.50 366.15 270.00 371.70 C267.50 377.25 263.00 380.28 260.00 385.00 C257.00 389.72 253.33 397.50 252.00 400.00 Z" fill="none" stroke="#fafafa" stroke-width="3.2" clip-path="url(#bc3)"/>
<clipPath id="bc4"><path d="M170 250 C172.72 250.83 180.25 252.42 186.30 255.00 C192.35 257.58 199.85 262.62 206.30 265.50 C212.75 268.38 219.17 270.78 225.00 272.30 C230.83 273.82 237.13 274.15 241.30 274.60 C245.47 275.05 248.55 274.93 250.00 275.00 L250 287 C248.55 287.08 245.47 287.00 241.30 287.50 C237.13 288.00 230.83 289.27 225.00 290.00 C219.17 290.73 213.58 292.23 206.30 291.90 C199.02 291.57 187.35 288.57 181.30 288.00 C175.25 287.43 171.88 288.42 170.00 288.50 Z"/></clipPath>
<path d="M170 250 C172.72 250.83 180.25 252.42 186.30 255.00 C192.35 257.58 199.85 262.62 206.30 265.50 C212.75 268.38 219.17 270.78 225.00 272.30 C230.83 273.82 237.13 274.15 241.30 274.60 C245.47 275.05 248.55 274.93 250.00 275.00 L250 287 C248.55 287.08 245.47 287.00 241.30 287.50 C237.13 288.00 230.83 289.27 225.00 290.00 C219.17 290.73 213.58 292.23 206.30 291.90 C199.02 291.57 187.35 288.57 181.30 288.00 C175.25 287.43 171.88 288.42 170.00 288.50 Z" fill="url(#bandrad)"/>
<path d="M170 250 C172.72 250.83 180.25 252.42 186.30 255.00 C192.35 257.58 199.85 262.62 206.30 265.50 C212.75 268.38 219.17 270.78 225.00 272.30 C230.83 273.82 237.13 274.15 241.30 274.60 C245.47 275.05 248.55 274.93 250.00 275.00 L250 287 C248.55 287.08 245.47 287.00 241.30 287.50 C237.13 288.00 230.83 289.27 225.00 290.00 C219.17 290.73 213.58 292.23 206.30 291.90 C199.02 291.57 187.35 288.57 181.30 288.00 C175.25 287.43 171.88 288.42 170.00 288.50 Z" fill="none" stroke="#fafafa" stroke-width="3.2" clip-path="url(#bc4)"/>
<circle cx="288.6" cy="285.9" r="107.0" fill="url(#rimshade)"/>
</g>
<circle cx="288.2" cy="287" r="46" fill="#000" opacity="0.18"/>
<ellipse cx="287" cy="286.1" rx="45.9" ry="44.6" fill="#fafafa"/>
<circle cx="287.6" cy="285.2" r="41.6" fill="#f2f0f0" stroke="#8c8686" stroke-width="0.8"/>
<text x="285.30" y="262.80" font-size="8.8" fill="#262626" text-anchor="middle" font-weight="normal" stroke="#262626" stroke-width="0.15">Diversidad</text>
<text x="285.90" y="281.90" font-size="8.6" fill="#262626" text-anchor="middle" font-weight="normal" stroke="#262626" stroke-width="0.15">Autonomía de</text>
<text x="286.20" y="290.70" font-size="8.6" fill="#262626" text-anchor="middle" font-weight="normal" stroke="#262626" stroke-width="0.15">las mujeres</text>
<text x="287.80" y="307.80" font-size="8.2" fill="#262626" text-anchor="middle" font-weight="normal" stroke="#262626" stroke-width="0.15">Igualdad</text>
<text x="288.20" y="316.70" font-size="8.2" fill="#262626" text-anchor="middle" font-weight="normal" stroke="#262626" stroke-width="0.15">de género</text>
<path d="M285.7 264 L283.6 267.9 L287.9 267.9 Z" fill="#34509a"/>
<line x1="285.6" y1="268.5" x2="285.6" y2="270.5" stroke="#5a6a98" stroke-width="0.7"/>
<line x1="285.5" y1="273" x2="285.5" y2="278.2" stroke="#3d4a78" stroke-width="0.9"/>
<circle cx="285.4" cy="293.8" r="0.55" fill="#555"/>
<line x1="285.4" y1="297.6" x2="285.4" y2="301.8" stroke="#3d4a78" stroke-width="1"/>
<circle cx="223.1" cy="222" r="3.4" fill="#ffffff"/>
<circle cx="237.4" cy="217.4" r="3.4" fill="#ffffff"/>
<path d="M222.2 229.8 L220.3 233.6" fill="none" stroke="#ffffff" stroke-linecap="round" stroke-linejoin="round" stroke-width="7.4"/>
<path d="M219.2 227.6 L213.8 229.7 L211.2 225.9" fill="none" stroke="#ffffff" stroke-linecap="round" stroke-linejoin="round" stroke-width="2.7"/>
<path d="M225 228.3 L227.1 231.5 L230.6 230.1" fill="none" stroke="#ffffff" stroke-linecap="round" stroke-linejoin="round" stroke-width="2.7"/>
<path d="M218.8 236.5 L218 241.5 L218.5 247" fill="none" stroke="#ffffff" stroke-linecap="round" stroke-linejoin="round" stroke-width="3"/>
<path d="M221.8 236.5 L225.6 239 L225 246.6" fill="none" stroke="#ffffff" stroke-linecap="round" stroke-linejoin="round" stroke-width="3"/>
<path d="M239.4 226.8 L239 230" fill="none" stroke="#ffffff" stroke-linecap="round" stroke-linejoin="round" stroke-width="7.8"/>
<path d="M236.5 224.5 L230 226.4" fill="none" stroke="#ffffff" stroke-linecap="round" stroke-linejoin="round" stroke-width="2.7"/>
<path d="M242 224 L246.2 224.4 L249.5 221.4" fill="none" stroke="#ffffff" stroke-linecap="round" stroke-linejoin="round" stroke-width="2.7"/>
<path d="M236.8 233.5 L235.4 237 L236.2 241.7" fill="none" stroke="#ffffff" stroke-linecap="round" stroke-linejoin="round" stroke-width="3"/>
<path d="M241 233.5 L242 237.8 L242.4 242" fill="none" stroke="#ffffff" stroke-linecap="round" stroke-linejoin="round" stroke-width="3"/>
<path d="M318.04 199.75 L320.75 215.48 L325.25 214.52 L321.36 199.05 Z M318.00 199.40 a1.70 1.70 0 1 0 3.40 0 a1.70 1.70 0 1 0 -3.40 0 Z M320.70 215.00 a2.30 2.30 0 1 0 4.60 0 a2.30 2.30 0 1 0 -4.60 0 Z" fill="#ffffff" fill-rule="nonzero"/>
<path d="M308.64 205.04 L318.89 217.34 L322.31 214.26 L311.16 202.76 Z M308.20 203.90 a1.70 1.70 0 1 0 3.40 0 a1.70 1.70 0 1 0 -3.40 0 Z M318.30 215.80 a2.30 2.30 0 1 0 4.60 0 a2.30 2.30 0 1 0 -4.60 0 Z" fill="#ffffff"/>
<path d="M304.89 214.09 L316.86 220.39 L318.74 216.41 L306.31 211.11 Z M303.95 212.60 a1.65 1.65 0 1 0 3.30 0 a1.65 1.65 0 1 0 -3.30 0 Z M315.60 218.40 a2.20 2.20 0 1 0 4.40 0 a2.20 2.20 0 1 0 -4.40 0 Z" fill="#ffffff"/>
<path d="M307.07 222.79 L315.33 223.99 L315.67 220.41 L307.33 220.01 Z M305.80 221.40 a1.40 1.40 0 1 0 2.80 0 a1.40 1.40 0 1 0 -2.80 0 Z M313.70 222.20 a1.80 1.80 0 1 0 3.60 0 a1.80 1.80 0 1 0 -3.60 0 Z" fill="#ffffff"/>
<path d="M316 216.5 L321.5 213.8 L325 214.5 C325 217.5 324 219.5 322.4 221 L318.5 222.5 L315 221.5 Z" fill="#ffffff"/>
<path d="M313.6 221.2 C314.2 226 317.5 229.4 321.2 229.3 C326.5 229.1 330.2 225 332.6 219.6 L335.3 217.6 C334.6 215.4 331.8 214.6 329.6 215.9 C327.9 217 326.3 220.2 323.8 221.8 C321.8 222.9 319.5 222.5 318 221.4 Z" fill="#ffffff"/>
<ellipse cx="321.2" cy="219.9" rx="1.0" ry="1.3" fill="#1f4c97"/>
<circle cx="365.8" cy="297.3" r="10.95" fill="none" stroke="#ffffff" stroke-width="2.1"/>
<path d="M373.5 289.6 L379.3 283.8" stroke="#ffffff" stroke-width="2.2"/>
<path d="M382.4 280.5 L375.9 282.3 L381.6 288 Z" fill="#ffffff"/>
<circle cx="294.4" cy="352.2" r="4.4" fill="#ffffff"/>
<circle cx="317.8" cy="352.2" r="4.4" fill="#ffffff"/>
<path d="M285.6 366.7 L285.6 362.09999999999997 C285.6 359.15999999999997 288.26000000000005 357.9 293.20000000000005 357.9 C298.14 357.9 300.8 359.15999999999997 300.8 362.09999999999997 L300.8 366.7 Z" fill="#ffffff" />
<path d="M311.4 366.7 L311.4 362.09999999999997 C311.4 359.15999999999997 314.16499999999996 357.9 319.29999999999995 357.9 C324.435 357.9 327.2 359.15999999999997 327.2 362.09999999999997 L327.2 366.7 Z" fill="#ffffff" />
<circle cx="306.1" cy="358.9" r="4.4" fill="#ffffff" stroke="#1f4c97" stroke-width="2.2" paint-order="stroke"/>
<path d="M297.2 373.9 L297.2 369.09999999999997 C297.2 366.15999999999997 300.34999999999997 364.9 306.2 364.9 C312.05 364.9 315.2 366.15999999999997 315.2 369.09999999999997 L315.2 373.9 Z" fill="#ffffff" stroke="#1f4c97" stroke-width="2.2" paint-order="stroke"/>
<path d="M214.4 342.6 C216 339.6 220 338.7 225.2 338.7 C230.5 338.7 234.5 339.6 236.1 342.6 Z" fill="#ffffff"/>
<path d="M225.3 339.5 C225 333 224.2 326 224.5 320.5 C224.8 316.5 226 314 228.2 311" fill="none" stroke="#ffffff" stroke-width="1.6" stroke-linecap="round"/>
<path d="M223.6 328.2 C223.4 324.3 220.4 321 216.5 320.1 L211.5 319.4 C211.2 323.6 212.8 327 216.5 328.5 C219 329.4 221.6 329.2 223.6 328.2 Z" fill="#ffffff"/>
<path d="M225.6 331.4 C225.4 327.2 227.8 324.2 231 323.6 L237.1 323.1 C237.2 327.5 235.2 331.2 231.2 332.3 C229 332.9 227 332.5 225.6 331.4 Z" fill="#ffffff"/>
<path d="M227.2 313.6 C226.8 310.6 228.6 308.6 231.8 308 C232.6 311.2 230.8 313.6 227.2 313.6 Z" fill="#ffffff"/>
<path d="M225.6 315.8 C222.6 316.8 219.8 315 219.6 311.8 C222.8 311.2 225.2 312.6 225.6 315.8 Z" fill="#ffffff"/>
<path d="M226.3 318.6 C228.2 315.6 231.8 315.6 233.4 317.6 C231.8 320.6 228.6 320.8 226.3 318.6 Z" fill="#ffffff"/>
<g transform="translate(3.1 213.3) scale(1.05) translate(-210.1 -214.6)"><circle cx="223.1" cy="222" r="3.4" fill="#3367b8"/>
<circle cx="237.4" cy="217.4" r="3.4" fill="#3367b8"/>
<path d="M222.2 229.8 L220.3 233.6" fill="none" stroke="#3367b8" stroke-linecap="round" stroke-linejoin="round" stroke-width="7.4"/>
<path d="M219.2 227.6 L213.8 229.7 L211.2 225.9" fill="none" stroke="#3367b8" stroke-linecap="round" stroke-linejoin="round" stroke-width="2.7"/>
<path d="M225 228.3 L227.1 231.5 L230.6 230.1" fill="none" stroke="#3367b8" stroke-linecap="round" stroke-linejoin="round" stroke-width="2.7"/>
<path d="M218.8 236.5 L218 241.5 L218.5 247" fill="none" stroke="#3367b8" stroke-linecap="round" stroke-linejoin="round" stroke-width="3"/>
<path d="M221.8 236.5 L225.6 239 L225 246.6" fill="none" stroke="#3367b8" stroke-linecap="round" stroke-linejoin="round" stroke-width="3"/>
<path d="M239.4 226.8 L239 230" fill="none" stroke="#3367b8" stroke-linecap="round" stroke-linejoin="round" stroke-width="7.8"/>
<path d="M236.5 224.5 L230 226.4" fill="none" stroke="#3367b8" stroke-linecap="round" stroke-linejoin="round" stroke-width="2.7"/>
<path d="M242 224 L246.2 224.4 L249.5 221.4" fill="none" stroke="#3367b8" stroke-linecap="round" stroke-linejoin="round" stroke-width="2.7"/>
<path d="M236.8 233.5 L235.4 237 L236.2 241.7" fill="none" stroke="#3367b8" stroke-linecap="round" stroke-linejoin="round" stroke-width="3"/>
<path d="M241 233.5 L242 237.8 L242.4 242" fill="none" stroke="#3367b8" stroke-linecap="round" stroke-linejoin="round" stroke-width="3"/></g>
<g transform="translate(13 298.8) scale(0.9) translate(-211.6 -308.2)"><path d="M214.4 342.6 C216 339.6 220 338.7 225.2 338.7 C230.5 338.7 234.5 339.6 236.1 342.6 Z" fill="#3367b8"/>
<path d="M225.3 339.5 C225 333 224.2 326 224.5 320.5 C224.8 316.5 226 314 228.2 311" fill="none" stroke="#3367b8" stroke-width="1.6" stroke-linecap="round"/>
<path d="M223.6 328.2 C223.4 324.3 220.4 321 216.5 320.1 L211.5 319.4 C211.2 323.6 212.8 327 216.5 328.5 C219 329.4 221.6 329.2 223.6 328.2 Z" fill="#3367b8"/>
<path d="M225.6 331.4 C225.4 327.2 227.8 324.2 231 323.6 L237.1 323.1 C237.2 327.5 235.2 331.2 231.2 332.3 C229 332.9 227 332.5 225.6 331.4 Z" fill="#3367b8"/>
<path d="M227.2 313.6 C226.8 310.6 228.6 308.6 231.8 308 C232.6 311.2 230.8 313.6 227.2 313.6 Z" fill="#3367b8"/>
<path d="M225.6 315.8 C222.6 316.8 219.8 315 219.6 311.8 C222.8 311.2 225.2 312.6 225.6 315.8 Z" fill="#3367b8"/>
<path d="M226.3 318.6 C228.2 315.6 231.8 315.6 233.4 317.6 C231.8 320.6 228.6 320.8 226.3 318.6 Z" fill="#3367b8"/></g>
<g transform="translate(216.7 -33.1)"><path d="M318.04 199.75 L320.75 215.48 L325.25 214.52 L321.36 199.05 Z M318.00 199.40 a1.70 1.70 0 1 0 3.40 0 a1.70 1.70 0 1 0 -3.40 0 Z M320.70 215.00 a2.30 2.30 0 1 0 4.60 0 a2.30 2.30 0 1 0 -4.60 0 Z" fill="#2b67b5" fill-rule="nonzero"/>
<path d="M308.64 205.04 L318.89 217.34 L322.31 214.26 L311.16 202.76 Z M308.20 203.90 a1.70 1.70 0 1 0 3.40 0 a1.70 1.70 0 1 0 -3.40 0 Z M318.30 215.80 a2.30 2.30 0 1 0 4.60 0 a2.30 2.30 0 1 0 -4.60 0 Z" fill="#2b67b5"/>
<path d="M304.89 214.09 L316.86 220.39 L318.74 216.41 L306.31 211.11 Z M303.95 212.60 a1.65 1.65 0 1 0 3.30 0 a1.65 1.65 0 1 0 -3.30 0 Z M315.60 218.40 a2.20 2.20 0 1 0 4.40 0 a2.20 2.20 0 1 0 -4.40 0 Z" fill="#2b67b5"/>
<path d="M307.07 222.79 L315.33 223.99 L315.67 220.41 L307.33 220.01 Z M305.80 221.40 a1.40 1.40 0 1 0 2.80 0 a1.40 1.40 0 1 0 -2.80 0 Z M313.70 222.20 a1.80 1.80 0 1 0 3.60 0 a1.80 1.80 0 1 0 -3.60 0 Z" fill="#2b67b5"/>
<path d="M316 216.5 L321.5 213.8 L325 214.5 C325 217.5 324 219.5 322.4 221 L318.5 222.5 L315 221.5 Z" fill="#2b67b5"/>
<path d="M313.6 221.2 C314.2 226 317.5 229.4 321.2 229.3 C326.5 229.1 330.2 225 332.6 219.6 L335.3 217.6 C334.6 215.4 331.8 214.6 329.6 215.9 C327.9 217 326.3 220.2 323.8 221.8 C321.8 222.9 319.5 222.5 318 221.4 Z" fill="#2b67b5"/>
<ellipse cx="321.2" cy="219.9" rx="1.0" ry="1.3" fill="#ffffff"/></g>
<g transform="translate(540.7 275.2) scale(0.97) translate(-365.8 -297.3)"><circle cx="365.8" cy="297.3" r="10.95" fill="none" stroke="#3a62b2" stroke-width="2.1"/>
<path d="M373.5 289.6 L379.3 283.8" stroke="#3a62b2" stroke-width="2.2"/>
<path d="M382.4 280.5 L375.9 282.3 L381.6 288 Z" fill="#3a62b2"/></g>
<g transform="translate(532.9 350.8) scale(0.953) translate(-294.4 -352.2)"><circle cx="294.4" cy="352.2" r="4.4" fill="#2f63b8"/>
<circle cx="317.8" cy="352.2" r="4.4" fill="#2f63b8"/>
<path d="M285.6 366.7 L285.6 362.09999999999997 C285.6 359.15999999999997 288.26000000000005 357.9 293.20000000000005 357.9 C298.14 357.9 300.8 359.15999999999997 300.8 362.09999999999997 L300.8 366.7 Z" fill="#2f63b8" />
<path d="M311.4 366.7 L311.4 362.09999999999997 C311.4 359.15999999999997 314.16499999999996 357.9 319.29999999999995 357.9 C324.435 357.9 327.2 359.15999999999997 327.2 362.09999999999997 L327.2 366.7 Z" fill="#2f63b8" />
<circle cx="306.1" cy="358.9" r="4.4" fill="#2f63b8" stroke="#ffffff" stroke-width="2.2" paint-order="stroke"/>
<path d="M297.2 373.9 L297.2 369.09999999999997 C297.2 366.15999999999997 300.34999999999997 364.9 306.2 364.9 C312.05 364.9 315.2 366.15999999999997 315.2 369.09999999999997 L315.2 373.9 Z" fill="#2f63b8" stroke="#ffffff" stroke-width="2.2" paint-order="stroke"/></g>
<g transform="translate(144.2 139.2)">
<path d="M4.4 5 C4.8 1.2 8 0.2 12 0.2 L23.5 0.2 C26 0.3 27.8 1.8 29.2 4 L31.4 10 C31.9 14.5 31.5 18.2 28.8 19.6 C25.5 20.6 21 20.4 18.6 19.2 L16.8 18.7 C14.6 20.2 11 20.4 8.6 19.7 C5.6 18.8 4.2 15.5 4.2 11.5 Z" fill="#2a3273"/>
<rect x="0" y="0.7" width="9.4" height="8.3" rx="1.8" fill="#3d4a98"/>
<rect x="0.6" y="1.2" width="8" height="2.6" rx="1.2" fill="#4a59a8"/>
<path d="M9 1.2 L24 1.2 C25.5 1.4 26.5 2.5 27 3.6 L22 5 L10 5 Z" fill="#36438f"/>
<path d="M7.2 3 C6.6 8 7.6 13.5 11.2 18.2" stroke="#394796" stroke-width="3.6" stroke-linecap="round" fill="none"/>
<path d="M15.5 3.2 C18.5 8 22 13 25.2 18.4" stroke="#4251a3" stroke-width="4.6" stroke-linecap="round" fill="none"/>
<rect x="25.2" y="3.3" width="9.4" height="6.8" rx="1.8" fill="#4352a6"/>
<rect x="26" y="3.8" width="8" height="2.4" rx="1.1" fill="#5060b2"/>
<ellipse cx="18.8" cy="5.1" rx="2.4" ry="1.05" transform="rotate(22 18.8 5.1)" fill="#e2e6fb"/>
<ellipse cx="12.2" cy="12.6" rx="1.05" ry="1.25" fill="#e6eaff"/>
</g>
<g transform="translate(390.9 137.8)">
<path d="M4.4 5 C4.8 1.2 8 0.2 12 0.2 L23.5 0.2 C26 0.3 27.8 1.8 29.2 4 L31.4 10 C31.9 14.5 31.5 18.2 28.8 19.6 C25.5 20.6 21 20.4 18.6 19.2 L16.8 18.7 C14.6 20.2 11 20.4 8.6 19.7 C5.6 18.8 4.2 15.5 4.2 11.5 Z" fill="#2a3273"/>
<rect x="0" y="0.7" width="9.4" height="8.3" rx="1.8" fill="#3d4a98"/>
<rect x="0.6" y="1.2" width="8" height="2.6" rx="1.2" fill="#4a59a8"/>
<path d="M9 1.2 L24 1.2 C25.5 1.4 26.5 2.5 27 3.6 L22 5 L10 5 Z" fill="#36438f"/>
<path d="M7.2 3 C6.6 8 7.6 13.5 11.2 18.2" stroke="#394796" stroke-width="3.6" stroke-linecap="round" fill="none"/>
<path d="M15.5 3.2 C18.5 8 22 13 25.2 18.4" stroke="#4251a3" stroke-width="4.6" stroke-linecap="round" fill="none"/>
<rect x="25.2" y="3.3" width="9.4" height="6.8" rx="1.8" fill="#4352a6"/>
<rect x="26" y="3.8" width="8" height="2.4" rx="1.1" fill="#5060b2"/>
<ellipse cx="18.8" cy="5.1" rx="2.4" ry="1.05" transform="rotate(22 18.8 5.1)" fill="#e2e6fb"/>
<ellipse cx="12.2" cy="12.6" rx="1.05" ry="1.25" fill="#e6eaff"/>
</g>
<g transform="translate(144.1 412.8)">
<path d="M4.4 5 C4.8 1.2 8 0.2 12 0.2 L23.5 0.2 C26 0.3 27.8 1.8 29.2 4 L31.4 10 C31.9 14.5 31.5 18.2 28.8 19.6 C25.5 20.6 21 20.4 18.6 19.2 L16.8 18.7 C14.6 20.2 11 20.4 8.6 19.7 C5.6 18.8 4.2 15.5 4.2 11.5 Z" fill="#2a3273"/>
<rect x="0" y="0.7" width="9.4" height="8.3" rx="1.8" fill="#3d4a98"/>
<rect x="0.6" y="1.2" width="8" height="2.6" rx="1.2" fill="#4a59a8"/>
<path d="M9 1.2 L24 1.2 C25.5 1.4 26.5 2.5 27 3.6 L22 5 L10 5 Z" fill="#36438f"/>
<path d="M7.2 3 C6.6 8 7.6 13.5 11.2 18.2" stroke="#394796" stroke-width="3.6" stroke-linecap="round" fill="none"/>
<path d="M15.5 3.2 C18.5 8 22 13 25.2 18.4" stroke="#4251a3" stroke-width="4.6" stroke-linecap="round" fill="none"/>
<rect x="25.2" y="3.3" width="9.4" height="6.8" rx="1.8" fill="#4352a6"/>
<rect x="26" y="3.8" width="8" height="2.4" rx="1.1" fill="#5060b2"/>
<ellipse cx="18.8" cy="5.1" rx="2.4" ry="1.05" transform="rotate(22 18.8 5.1)" fill="#e2e6fb"/>
<ellipse cx="12.2" cy="12.6" rx="1.05" ry="1.25" fill="#e6eaff"/>
</g>
<g transform="translate(396.3 412.8)">
<path d="M4.4 5 C4.8 1.2 8 0.2 12 0.2 L23.5 0.2 C26 0.3 27.8 1.8 29.2 4 L31.4 10 C31.9 14.5 31.5 18.2 28.8 19.6 C25.5 20.6 21 20.4 18.6 19.2 L16.8 18.7 C14.6 20.2 11 20.4 8.6 19.7 C5.6 18.8 4.2 15.5 4.2 11.5 Z" fill="#2a3273"/>
<rect x="0" y="0.7" width="9.4" height="8.3" rx="1.8" fill="#3d4a98"/>
<rect x="0.6" y="1.2" width="8" height="2.6" rx="1.2" fill="#4a59a8"/>
<path d="M9 1.2 L24 1.2 C25.5 1.4 26.5 2.5 27 3.6 L22 5 L10 5 Z" fill="#36438f"/>
<path d="M7.2 3 C6.6 8 7.6 13.5 11.2 18.2" stroke="#394796" stroke-width="3.6" stroke-linecap="round" fill="none"/>
<path d="M15.5 3.2 C18.5 8 22 13 25.2 18.4" stroke="#4251a3" stroke-width="4.6" stroke-linecap="round" fill="none"/>
<rect x="25.2" y="3.3" width="9.4" height="6.8" rx="1.8" fill="#4352a6"/>
<rect x="26" y="3.8" width="8" height="2.4" rx="1.1" fill="#5060b2"/>
<ellipse cx="18.8" cy="5.1" rx="2.4" ry="1.05" transform="rotate(22 18.8 5.1)" fill="#e2e6fb"/>
<ellipse cx="12.2" cy="12.6" rx="1.05" ry="1.25" fill="#e6eaff"/>
</g>
<path d="M203.1 196.1 L166.7 229.4 L181.7 226.7 L190.2 231.3 L195.9 243.6 Z" fill="#807d7e"/>
<path id="tp" d="M 213.5 188.2 A 283 283 0 0 1 340 176" fill="none"/>
<text font-size="12.3" fill="#56699e"><textPath href="#tp" textLength="119" lengthAdjust="spacingAndGlyphs">Desarrollo sostenible</textPath></text>
</svg></body></html>
